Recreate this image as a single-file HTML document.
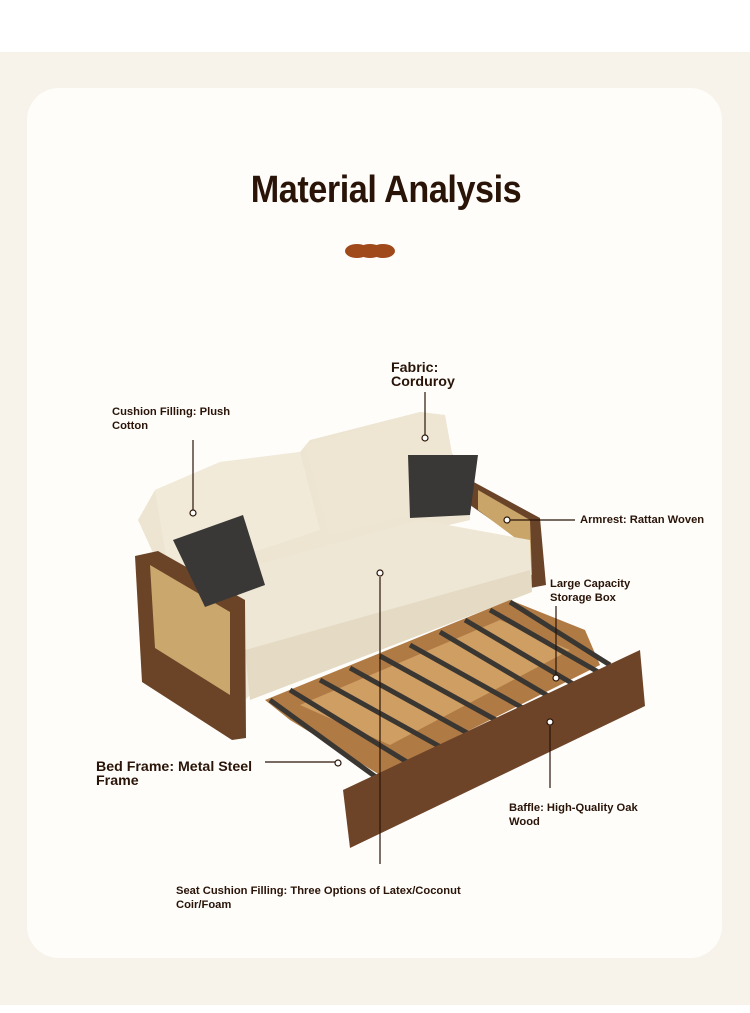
<!DOCTYPE html>
<html><head><meta charset="utf-8"><style>
html,body{margin:0;padding:0;}
body{width:750px;height:1013px;background:#fff;position:relative;overflow:hidden;font-family:"Liberation Sans",sans-serif;}
.bg{position:absolute;left:0;top:52px;width:750px;height:953px;background:#f7f3ea;}
.card{position:absolute;left:27px;top:88px;width:695px;height:870px;background:#fefdfa;border-radius:32px;}
.t{position:absolute;color:#2a1408;}
.s{font-size:11.2px;font-weight:bold;line-height:14px;color:#2a1408;position:absolute;}
.m{font-size:14.2px;font-weight:bold;line-height:14px;color:#2a1408;position:absolute;}
</style></head><body>
<div class="bg"></div>
<div class="card"></div>
<div class="t" style="left:186px;width:400px;top:169px;text-align:center;font-size:38px;font-weight:bold;letter-spacing:-0.5px;transform:scaleX(0.9);">Material Analysis</div>
<svg width="750" height="1013" style="position:absolute;left:0;top:0">
 <g fill="#a04a1c"><ellipse cx="357" cy="251" rx="12" ry="7"/><ellipse cx="370" cy="251" rx="12" ry="7"/><ellipse cx="383" cy="251" rx="12" ry="7"/></g>
 <polygon points="138,520 155,490 220,462 300,452 310,440 420,412 445,415 450,450 470,480 470,520 300,560 170,590" fill="#ede5d2"/>
 <polygon points="155,490 220,462 300,452 320,530 170,580" fill="#f1ead9"/>
 <polygon points="305,445 420,412 445,415 455,470 470,500 330,535" fill="#eee6d3"/>
 <polygon points="470,480 540,518 546,585 530,588 520,540 470,505" fill="#6a4428"/>
 <polygon points="478,490 530,520 532,575 522,572 518,540 478,510" fill="#c9a56a"/>
 <polygon points="165,590 420,520 530,540 532,590 250,695 245,700 170,640" fill="#efe7d5"/>
 <polygon points="245,650 530,570 532,592 250,700" fill="#e5dbc5"/>
 <polygon points="135,556 158,551 245,600 246,738 232,740 142,682" fill="#6b4428"/>
 <polygon points="150,565 230,612 230,695 155,648" fill="#caa86d"/>
 <polygon points="265,700 510,600 585,630 600,665 380,775 290,720" fill="#b07a45"/>
 <polygon points="300,705 500,620 570,650 390,745" fill="#cf9e63"/>
 <g stroke="#3a3632" stroke-width="5">
  <line x1="270" y1="700" x2="380" y2="780"/>
  <line x1="290" y1="690" x2="420" y2="770"/>
  <line x1="320" y1="680" x2="455" y2="755"/>
  <line x1="350" y1="668" x2="480" y2="740"/>
  <line x1="380" y1="656" x2="505" y2="725"/>
  <line x1="410" y1="645" x2="530" y2="712"/>
  <line x1="440" y1="632" x2="555" y2="700"/>
  <line x1="465" y1="620" x2="580" y2="688"/>
  <line x1="490" y1="610" x2="600" y2="673"/>
  <line x1="510" y1="602" x2="610" y2="665"/>
 </g>
 <polygon points="343,790 640,650 645,706 350,848" fill="#6e4429"/>
 <polygon points="173,540 243,515 265,585 205,607" fill="#3a3836"/>
 <polygon points="408,455 478,455 470,515 410,518" fill="#3a3836"/>
 <g stroke="#2a1408" stroke-width="1.2" fill="#fff">
  <line x1="193" y1="440" x2="193" y2="510"/><circle cx="193" cy="513" r="3"/>
  <line x1="425" y1="392" x2="425" y2="435"/><circle cx="425" cy="438" r="3"/>
  <line x1="510" y1="520" x2="575" y2="520"/><circle cx="507" cy="520" r="3"/>
  <line x1="380" y1="577" x2="380" y2="864"/><circle cx="380" cy="573" r="3"/>
  <line x1="556" y1="606" x2="556" y2="675"/><circle cx="556" cy="678" r="3"/>
  <line x1="265" y1="762" x2="335" y2="762"/><circle cx="338" cy="763" r="3"/>
  <line x1="550" y1="726" x2="550" y2="788"/><circle cx="550" cy="722" r="3"/>
 </g>
</svg>
<div class="m" style="left:391px;top:361px;">Fabric:<br>Corduroy</div>
<div class="s" style="left:112px;top:405px;">Cushion Filling: Plush<br>Cotton</div>
<div class="s" style="left:580px;top:513px;">Armrest: Rattan Woven</div>
<div class="s" style="left:550px;top:577px;">Large Capacity<br>Storage Box</div>
<div class="m" style="left:96px;top:760px;">Bed Frame: Metal Steel<br>Frame</div>
<div class="s" style="left:509px;top:801px;">Baffle: High-Quality Oak<br>Wood</div>
<div class="s" style="left:176px;top:884px;">Seat Cushion Filling: Three Options of Latex/Coconut<br>Coir/Foam</div>
</body></html>
